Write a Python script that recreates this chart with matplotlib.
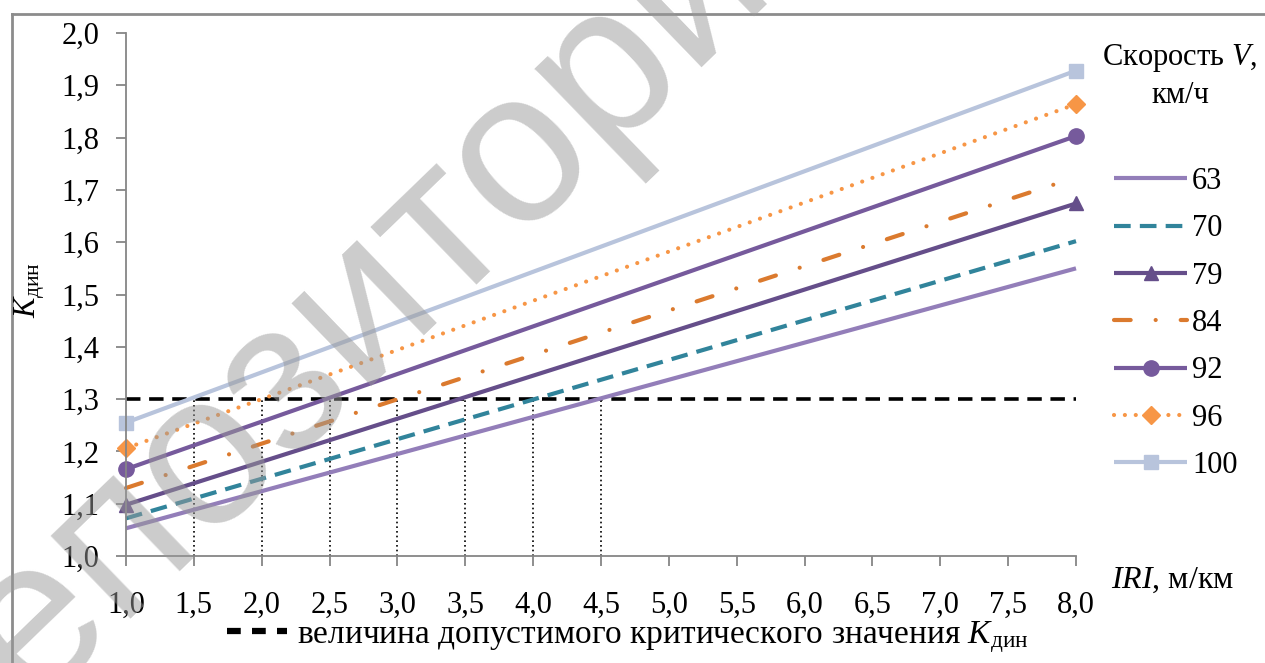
import matplotlib
matplotlib.use("Agg")
import matplotlib.pyplot as plt
from matplotlib.lines import Line2D
from matplotlib.ticker import FuncFormatter

# data
iri = [1.0, 8.0]
speeds = ["63", "70", "79", "84", "92", "96", "100"]
k_63 = [1.053, 1.550]
k_70 = [1.072, 1.602]
k_79 = [1.098, 1.674]
k_84 = [1.130, 1.724]
k_92 = [1.166, 1.803]
k_96 = [1.206, 1.864]
k_100 = [1.255, 1.928]
series = [k_63, k_70, k_79, k_84, k_92, k_96, k_100]

critical_k = 1.3
critical_iri = [1.5, 2.0, 2.5, 3.0, 3.5, 4.0, 4.5]

x_ticks = [1.0, 1.5, 2.0, 2.5, 3.0, 3.5, 4.0, 4.5, 5.0, 5.5, 6.0, 6.5, 7.0, 7.5, 8.0]
y_ticks = [1.0, 1.1, 1.2, 1.3, 1.4, 1.5, 1.6, 1.7, 1.8, 1.9, 2.0]

# styles
styles = [
    dict(color="#937EB9", ls="-"),
    dict(color="#31849B", ls=(0, (4, 2.2))),
    dict(color="#654E8A", ls="-", marker="^", ms=10),
    dict(color="#DB7A2E", ls=(0, (4, 6, 0.01, 6)), dash_capstyle="round"),
    dict(color="#765A9C", ls="-", marker="o", ms=11),
    dict(color="#F79646", ls=(0, (0.01, 2.6)), dash_capstyle="round", marker="D", ms=9),
    dict(color="#B8C4DC", ls="-", marker="s", ms=10),
]

plt.rcParams["font.family"] = ["Liberation Serif", "DejaVu Serif"]
plt.rcParams["mathtext.fontset"] = "custom"
plt.rcParams["mathtext.rm"] = "Liberation Serif"
plt.rcParams["mathtext.it"] = "Liberation Serif:italic"

FS = 22
GRAY = "#868686"

fig = plt.figure(figsize=(12.65, 6.63), dpi=100)
ax = fig.add_axes([126 / 1265, 1 - 556 / 663, (1076 - 126) / 1265, (556 - 33) / 663])

#################################################
# SERIES
#################################################

for name, vals, st in zip(speeds, series, styles):
    ax.plot(iri, vals, lw=3, label=name, solid_capstyle="butt",
            clip_on=False, **st)

# critical value
ax.plot(
    [x_ticks[0], x_ticks[-1]],
    [critical_k, critical_k],
    color="black",
    lw=2.6,
    ls=(0, (4, 2.4)),
    zorder=1.5
)

for xc in critical_iri:
    ax.plot(
        [xc, xc],
        [y_ticks[0], critical_k],
        color="black",
        lw=1.2,
        ls=(0, (1, 1.8)),
        zorder=1
    )

#################################################
# AXES
#################################################

ax.set_xlim(x_ticks[0], x_ticks[-1])
ax.set_ylim(y_ticks[0], y_ticks[-1])
ax.set_xticks(x_ticks)
ax.set_yticks(y_ticks)

comma = FuncFormatter(lambda v, p: f"{v:.1f}".replace(".", ","))
ax.xaxis.set_major_formatter(comma)
ax.yaxis.set_major_formatter(comma)

for side in ["top", "right"]:
    ax.spines[side].set_visible(False)
for side in ["left", "bottom"]:
    ax.spines[side].set_color(GRAY)
    ax.spines[side].set_linewidth(1.3)

ax.tick_params(axis="x", direction="out", length=7, width=1.3, color=GRAY,
               labelsize=FS, pad=18)
ax.tick_params(axis="y", direction="out", length=7, width=1.3, color=GRAY,
               labelsize=FS, pad=12)

fig.text(30 / 1265, 1 - 290 / 663, r"$K_{\mathrm{дин}}$", fontsize=FS,
         rotation=90, ha="center", va="center")

fig.text(1111 / 1265, 1 - 580 / 663, r"$IRI$, м/км", fontsize=FS + 1,
         ha="left", va="center")

#################################################
# LEGENDS
#################################################

fig.text(1180 / 1265, 1 - 76 / 663, "Скорость $V$,\nкм/ч", fontsize=FS,
         ha="center", va="center", multialignment="center", linespacing=1.3)

ax.legend(
    loc="upper left",
    bbox_to_anchor=(1114 / 1265, 1 - 167 / 663),
    bbox_transform=fig.transFigure,
    frameon=False,
    fontsize=FS,
    handlelength=2.4,
    handletextpad=0.16,
    labelspacing=0.6,
    borderpad=0,
    borderaxespad=0
)

crit_handle = Line2D([], [], color="black", lw=4.5, ls=(0, (2.2, 1.8)))
fig.legend(
    [crit_handle],
    [r"величина допустимого критического значения $K_{\mathrm{дин}}$"],
    loc="center",
    bbox_to_anchor=(628 / 1265, 1 - 637 / 663),
    frameon=False,
    fontsize=24,
    handlelength=1.8,
    handletextpad=0.3,
    borderpad=0
)

#################################################
# FRAME + WATERMARK
#################################################

fig.add_artist(Line2D([12 / 1265, 12 / 1265], [0, 1 - 14 / 663],
                      color="#8C8C8C", lw=2, transform=fig.transFigure))
fig.add_artist(Line2D([12 / 1265, 1], [1 - 14 / 663, 1 - 14 / 663],
                      color="#8C8C8C", lw=2, transform=fig.transFigure))

fig.text(356 / 1265, 1 - 303 / 663, "Репозиторий", fontsize=156,
         family="Liberation Sans", color="#999999", alpha=0.5,
         rotation=44, rotation_mode="anchor", ha="center", va="center",
         zorder=10)

fig.savefig("out.png", dpi=100)
